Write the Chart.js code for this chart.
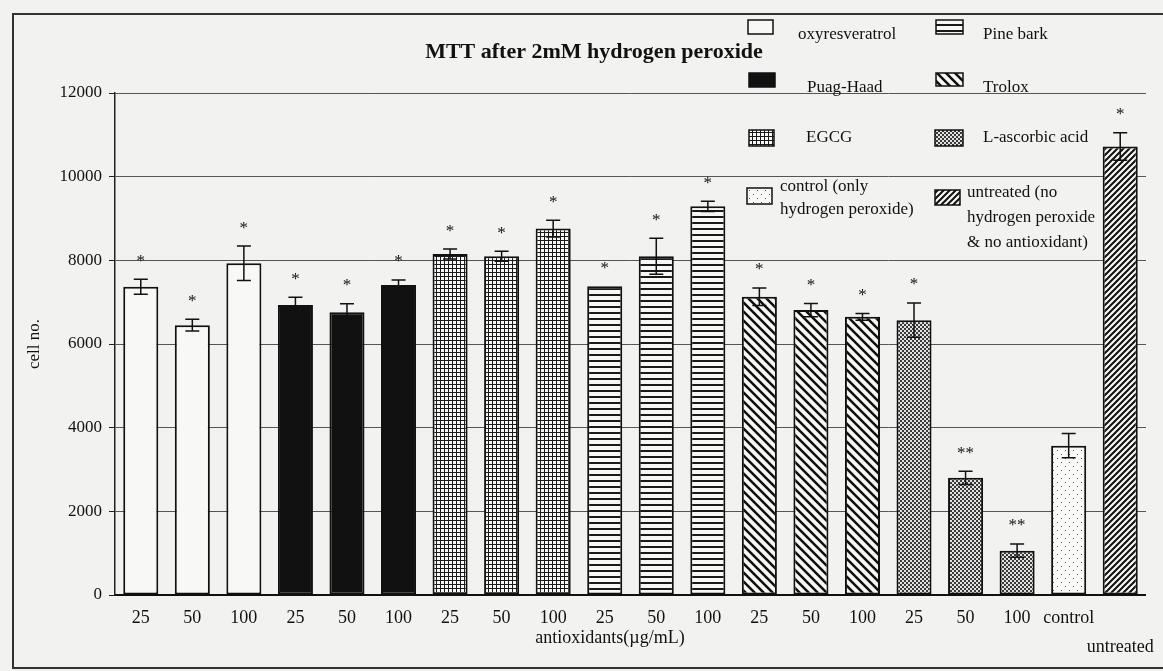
<!DOCTYPE html>
<html>
<head>
<meta charset="utf-8">
<script src="https://cdn.jsdelivr.net/npm/chart.js@4.4.0/dist/chart.umd.min.js"></script>
<style>
  html, body { margin: 0; padding: 0; background: #f2f2f0; }
  canvas { display: block; }
</style>
</head>
<body>
<canvas id="mtt" width="1163" height="671"></canvas>
<script>
// values
const doseLabels = ['25', '50', '100', '25', '50', '100', '25', '50', '100', '25', '50', '100',
                    '25', '50', '100', '25', '50', '100', 'control', ['', 'untreated']];
const cellCounts = [7370, 6450, 7930, 6930, 6760, 7410, 8150, 8100, 8760, 7380, 8100, 9290,
                    7130, 6810, 6650, 6570, 2800, 1060, 3570, 10720];
const cellErrors = [180, 140, 410, 190, 200, 120, 120, 120, 200, 0, 430, 120,
                    210, 160, 80, 410, 160, 160, 290, 330];
const barGroup = [0, 0, 0, 1, 1, 1, 2, 2, 2, 3, 3, 3, 4, 4, 4, 5, 5, 5, 6, 7];
const significance = ['*', '*', '*', '*', '*', '*', '*', '*', '*', '*', '*', '*',
                      '*', '*', '*', '*', '**', '**', '', '*'];
const groupNames = ['oxyresveratrol', 'Puag-Haad', 'EGCG', 'Pine bark', 'Trolox', 'L-ascorbic acid',
                    'control (only\nhydrogen peroxide)', 'untreated (no\nhydrogen peroxide\n& no antioxidant)'];

const SERIF = '"Liberation Serif", "Times New Roman", serif';
const canvas = document.getElementById('mtt');
const ctx = canvas.getContext('2d');

// fill patterns, one per group
function tile(size, draw) {
    const c = document.createElement('canvas');
    c.width = size[0];
    c.height = size[1];
    const g = c.getContext('2d');
    draw(g, size[0], size[1]);
    return ctx.createPattern(c, 'repeat');
}

function diagonal(dir, s, lw) {
    return tile([s, s], (g) => {
        g.fillStyle = '#f7f7f5';
        g.fillRect(0, 0, s, s);
        g.strokeStyle = '#111';
        g.lineWidth = lw;
        g.beginPath();
        [-s, 0, s].forEach(c => {
            if (dir === 'back') {
                g.moveTo(c - s, -s);
                g.lineTo(c + 2 * s, 2 * s);
            } else {
                g.moveTo(c - s, 2 * s);
                g.lineTo(c + 2 * s, -s);
            }
        });
        g.stroke();
    });
}

const groupFills = [
    '#f8f8f6',
    '#111111',
    tile([4, 4], (g) => {
        g.fillStyle = '#f7f7f5'; g.fillRect(0, 0, 4, 4);
        g.fillStyle = '#1a1a1a'; g.fillRect(0, 0, 4, 1); g.fillRect(0, 0, 1, 4);
    }),
    tile([4, 6], (g) => {
        g.fillStyle = '#f7f7f5'; g.fillRect(0, 0, 4, 6);
        g.fillStyle = '#1a1a1a'; g.fillRect(0, 0, 4, 2);
    }),
    diagonal('back', 9, 2.5),
    tile([4, 4], (g) => {
        g.fillStyle = '#e2e2e0'; g.fillRect(0, 0, 4, 4);
        g.fillStyle = '#3a3a3a'; g.fillRect(0, 0, 2, 2); g.fillRect(2, 2, 2, 2);
    }),
    tile([8, 8], (g) => {
        g.fillStyle = '#f8f8f6'; g.fillRect(0, 0, 8, 8);
        g.fillStyle = '#555'; g.fillRect(1, 2, 1, 1); g.fillRect(5, 6, 1, 1);
    }),
    diagonal('fwd', 6, 2)
];

// legend slots: box rect, text x, text baselines
const legendSlots = [
    { box: [748, 20, 25, 14], tx: 798, ty: [39] },
    { box: [749, 73, 26, 14], tx: 807, ty: [92] },
    { box: [749, 130, 25, 16], tx: 806, ty: [142] },
    { box: [936, 20, 27, 14], tx: 983, ty: [39] },
    { box: [936, 73, 27, 13], tx: 983, ty: [92] },
    { box: [935, 130, 28, 16], tx: 983, ty: [142] },
    { box: [747, 188, 25, 16], tx: 780, ty: [191, 214] },
    { box: [935, 190, 25, 15], tx: 967, ty: [197, 222, 247] }
];

const figurePlugin = {
    id: 'figureExtras',
    beforeDraw(chart) {
        const c = chart.ctx;
        c.save();
        c.fillStyle = '#f2f2f0';
        c.fillRect(0, 0, chart.width, chart.height);
        c.strokeStyle = '#333';
        c.lineWidth = 2;
        c.strokeRect(13, 14, chart.width + 20, chart.height - 17);
        c.restore();
    },
    afterDatasetsDraw(chart) {
        const c = chart.ctx;
        const y = chart.scales.y;
        const bars = chart.getDatasetMeta(0).data;
        c.save();
        c.strokeStyle = '#111';
        c.lineWidth = 1.5;
        c.fillStyle = '#111';
        c.font = '17px ' + SERIF;
        c.textAlign = 'center';
        c.textBaseline = 'middle';
        bars.forEach((bar, i) => {
            const top = y.getPixelForValue(cellCounts[i] + cellErrors[i]);
            const bot = y.getPixelForValue(cellCounts[i] - cellErrors[i]);
            if (cellErrors[i] > 0) {
                c.beginPath();
                c.moveTo(bar.x, top); c.lineTo(bar.x, bot);
                c.moveTo(bar.x - 7, top); c.lineTo(bar.x + 7, top);
                c.moveTo(bar.x - 7, bot); c.lineTo(bar.x + 7, bot);
                c.stroke();
            }
            if (significance[i]) {
                c.fillText(significance[i], bar.x, top - 18);
            }
        });
        c.restore();
    },
    afterDraw(chart) {
        const c = chart.ctx;
        c.save();
        c.fillStyle = '#111';
        c.textBaseline = 'alphabetic';
        c.textAlign = 'center';
        c.font = 'bold 22px ' + SERIF;
        c.fillText('MTT after 2mM hydrogen peroxide', 594, 58);
        c.font = '18px ' + SERIF;
        c.fillText('antioxidants(\u00b5g/mL)', 610, 643);

        c.textAlign = 'left';
        c.font = '17px ' + SERIF;
        legendSlots.forEach((slot, g) => {
            const [bx, by, bw, bh] = slot.box;
            c.fillStyle = groupFills[g];
            c.fillRect(bx, by, bw, bh);
            c.strokeStyle = '#111';
            c.lineWidth = 1.5;
            c.strokeRect(bx, by, bw, bh);
            c.fillStyle = '#111';
            groupNames[g].split('\n').forEach((line, k) => {
                c.fillText(line, slot.tx, slot.ty[k]);
            });
        });
        c.restore();
    }
};

new Chart(ctx, {
    type: 'bar',
    data: {
        labels: doseLabels,
        datasets: [{
            data: cellCounts,
            backgroundColor: barGroup.map(g => groupFills[g]),
            borderColor: '#111',
            borderWidth: 2,
            borderSkipped: false,
            barPercentage: 0.68,
            categoryPercentage: 1
        }]
    },
    options: {
        responsive: false,
        animation: false,
        devicePixelRatio: 1,
        layout: { padding: { top: 93, right: 12, left: 0, bottom: 0 } },
        plugins: {
            legend: { display: false },
            title: { display: false },
            tooltip: { enabled: false }
        },
        scales: {
            x: {
                afterFit: (scale) => { scale.height = 76; },
                grid: { display: false, drawTicks: false },
                border: { display: true, color: '#111', width: 2 },
                ticks: {
                    color: '#111',
                    padding: 9,
                    maxRotation: 0,
                    autoSkip: false,
                    font: { family: SERIF, size: 18, lineHeight: 1.6 }
                }
            },
            y: {
                min: 0,
                max: 12000,
                afterFit: (scale) => { scale.width = 115; },
                grid: { color: '#555', lineWidth: 1, drawTicks: true, tickLength: 6, tickColor: '#222' },
                border: { display: true, color: '#222', width: 1.5 },
                ticks: {
                    stepSize: 2000,
                    color: '#111',
                    padding: 7,
                    font: { family: SERIF, size: 17 },
                    callback: (v) => String(v)
                },
                title: {
                    display: true,
                    text: 'cell no.',
                    color: '#111',
                    padding: { top: 24 },
                    font: { family: SERIF, size: 17 }
                }
            }
        }
    },
    plugins: [figurePlugin]
});
</script>
</body>
</html>
